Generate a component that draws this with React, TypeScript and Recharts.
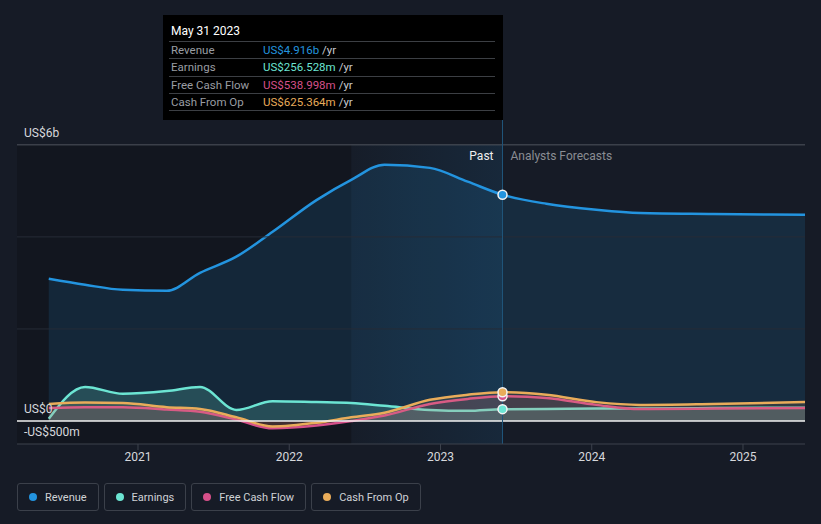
import React from 'react'
import {
  Area,
  ComposedChart,
  ReferenceArea,
  ReferenceDot,
  ReferenceLine,
  XAxis,
  YAxis,
} from 'recharts'

// decimal years (May 2020 .. May 2025)
const years = [
  2020.41, 2020.65, 2020.9, 2021.19, 2021.41, 2021.65, 2021.89, 2022.18, 2022.41,
  2022.63, 2022.93, 2023.18, 2023.41, 2023.7, 2024.03, 2024.32, 2024.8, 2025.41,
]
// values in US$ billions
const revenue = [3.09, 2.96, 2.85, 2.83, 3.22, 3.57, 4.11, 4.8, 5.24, 5.57, 5.5, 5.2, 4.916, 4.72, 4.59, 4.52, 4.5, 4.48]
const earnings = [0.05, 0.74, 0.59, 0.65, 0.74, 0.24, 0.43, 0.41, 0.39, 0.33, 0.24, 0.22, 0.257, 0.26, 0.27, 0.27, 0.28, 0.29]
const freeCashFlow = [0.28, 0.3, 0.3, 0.25, 0.2, 0.03, -0.16, -0.1, 0.0, 0.12, 0.37, 0.48, 0.539, 0.5, 0.35, 0.26, 0.27, 0.28]
const cashFromOp = [0.37, 0.4, 0.39, 0.3, 0.26, 0.08, -0.12, -0.04, 0.08, 0.18, 0.46, 0.57, 0.625, 0.57, 0.41, 0.35, 0.37, 0.41]

const xTicks = [2021, 2022, 2023, 2024, 2025]
const yTicks = [-0.5, 0, 6]
const yTickLabels: Record<string, string> = { '-0.5': '-US$500m', '0': 'US$0', '6': 'US$6b' }
const gridValues = [2, 4]

const pastEnd = 2023.41
const highlightStart = 2022.41

const seriesNames = ['Revenue', 'Earnings', 'Free Cash Flow', 'Cash From Op']
const seriesKeys = ['revenue', 'earnings', 'fcf', 'cfo']
const seriesColors = ['#2394df', '#6ce5d3', '#d6508a', '#e9ac5a']
const tooltipDate = 'May 31 2023'
const tooltipValues = ['US$4.916b', 'US$256.528m', 'US$538.998m', 'US$625.364m']

const data = years.map((year, i) => ({
  year,
  revenue: revenue[i],
  earnings: earnings[i],
  fcf: freeCashFlow[i],
  cfo: cashFromOp[i],
}))
const pastIndex = years.indexOf(pastEnd)

const font = 'Roboto, "Noto Sans", sans-serif'

function renderYTick(props: any) {
  const { y, payload } = props
  const label = yTickLabels[String(payload.value)]
  if (!label) return <g />
  return (
    <text x={24} y={y - 12} dy="0.35em" fill="#d6d8dc" fontSize={12} fontFamily={font}>
      {label}
    </text>
  )
}

function PastLabel(props: any) {
  const { viewBox } = props
  const x = viewBox.x
  const y = viewBox.y + 36
  return (
    <g fontFamily={font} fontSize={12}>
      <text x={x - 9} y={y} dy="0.35em" textAnchor="end" fill="#eeeeee">
        Past
      </text>
      <text x={x + 8} y={y} dy="0.35em" textAnchor="start" fill="#8a8d93">
        Analysts Forecasts
      </text>
    </g>
  )
}

export default function App() {
  return (
    <div
      style={{
        position: 'absolute',
        left: 0,
        top: 0,
        width: 821,
        height: 524,
        background: '#161b26',
        fontFamily: font,
        overflow: 'hidden',
      }}
    >
      <ComposedChart
        width={821}
        height={480}
        data={data}
        margin={{ top: 120, right: 16, bottom: 6, left: 16 }}
      >
        <defs>
          <linearGradient id="pastGrad" x1="0" y1="0" x2="1" y2="0">
            <stop offset="0%" stopColor="#2394df" stopOpacity={0.03} />
            <stop offset="100%" stopColor="#2394df" stopOpacity={0.22} />
          </linearGradient>
        </defs>
        <ReferenceArea
          x1={2020.2}
          x2={highlightStart}
          y1={-0.5}
          y2={6}
          fill="#000000"
          fillOpacity={0.18}
          stroke="none"
          zIndex={-50}
        />
        <ReferenceArea
          x1={highlightStart}
          x2={pastEnd}
          y1={-0.5}
          y2={6}
          fill="url(#pastGrad)"
          stroke="none"
          zIndex={-50}
        />
        {gridValues.map((v) => (
          <ReferenceLine key={v} y={v} stroke="#262c37" />
        ))}
        <ReferenceLine y={6} stroke="#50555e" />
        <XAxis
          type="number"
          dataKey="year"
          domain={[2020.2, 2025.41]}
          ticks={xTicks}
          allowDataOverflow
          stroke="#3d424c"
          tickSize={6}
          tick={{ fill: '#d6d8dc', fontSize: 12, fontFamily: font }}
          height={30}
        />
        <YAxis
          type="number"
          domain={[-0.5, 6.54]}
          ticks={yTicks}
          allowDataOverflow
          width={1}
          axisLine={false}
          tickLine={false}
          tick={renderYTick}
        />
        {seriesKeys.map((key, i) => (
          <Area
            key={key}
            type="monotone"
            dataKey={key}
            baseValue={0}
            stroke={seriesColors[i]}
            strokeWidth={2.5}
            fill={seriesColors[i]}
            fillOpacity={i === 0 ? 0.14 : i === 1 ? 0.2 : 0.12}
            dot={false}
            activeDot={false}
            isAnimationActive={false}
          />
        ))}
        <ReferenceLine y={0} stroke="#f2f2f2" strokeWidth={1.5} />
        <ReferenceLine x={pastEnd} stroke="#1f5479" label={<PastLabel />} />
        {seriesKeys.map((key, i) => (
          <ReferenceDot
            key={key}
            x={pastEnd}
            y={(data[pastIndex] as any)[key]}
            r={4.5}
            fill={seriesColors[i]}
            stroke="#f4f4f4"
            strokeWidth={1.5}
          />
        ))}
      </ComposedChart>

      {/* fixed tooltip at the last reported date */}
      <div
        style={{
          position: 'absolute',
          left: 163,
          top: 15,
          width: 340,
          height: 105,
          background: '#000000',
          boxSizing: 'border-box',
          padding: '0 8px 0 6px',
          fontSize: 11.5,
        }}
      >
        <div style={{ height: 26, lineHeight: '32px', color: '#ffffff', fontSize: 12, paddingLeft: 2 }}>
          {tooltipDate}
        </div>
        {seriesNames.map((name, i) => (
          <div
            key={name}
            style={{
              display: 'flex',
              height: 17.4,
              lineHeight: '17px',
              borderTop: '1px solid #3c3f44',
              borderBottom: i === seriesNames.length - 1 ? '1px solid #3c3f44' : undefined,
              boxSizing: 'border-box',
            }}
          >
            <span style={{ width: 92, paddingLeft: 2, color: '#9a9da3' }}>{name}</span>
            <span style={{ color: seriesColors[i] }}>{tooltipValues[i]}</span>
            <span style={{ color: '#c8cad0', marginLeft: 3 }}>/yr</span>
          </div>
        ))}
      </div>

      {/* legend */}
      <div style={{ position: 'absolute', left: 17, top: 483, display: 'flex', gap: 5 }}>
        {seriesNames.map((name, i) => (
          <div
            key={name}
            style={{
              height: 28,
              boxSizing: 'border-box',
              border: '1px solid #3b404a',
              borderRadius: 3,
              display: 'flex',
              alignItems: 'center',
              padding: '0 11px 0 11px',
              color: '#d0d2d6',
              fontSize: 11,
            }}
          >
            <span
              style={{
                width: 8,
                height: 8,
                borderRadius: '50%',
                background: seriesColors[i],
                marginRight: 8,
              }}
            />
            {name}
          </div>
        ))}
      </div>
    </div>
  )
}
